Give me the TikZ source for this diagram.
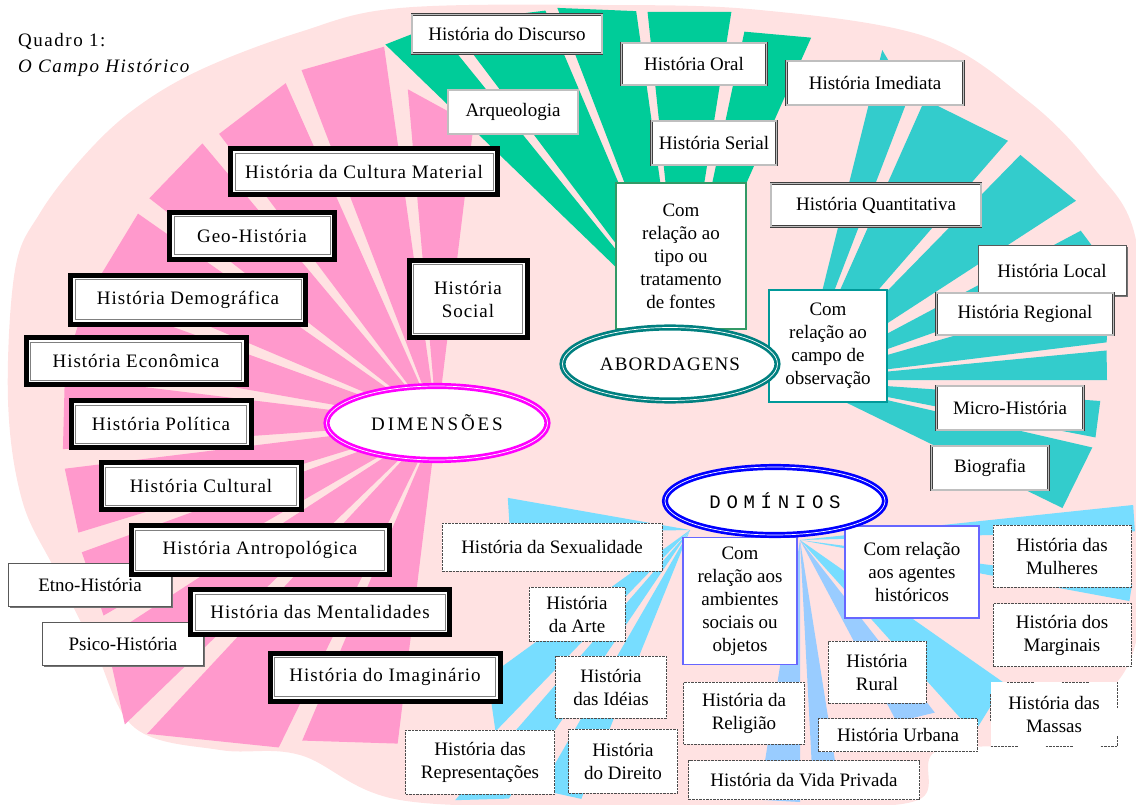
\documentclass[tikz,border=0pt]{standalone}
\usepackage{fontspec}
\setmainfont{Liberation Serif}
\newfontfamily\titlefont{Liberation Serif}[LetterSpace=8]
\newfontfamily\trackfont{Liberation Serif}[LetterSpace=5]
\newfontfamily\dimfont{Liberation Serif}[LetterSpace=15]
\newfontfamily\abordfont{Liberation Serif}[LetterSpace=6]
\newfontfamily\domfont{Liberation Mono}[LetterSpace=30]
\usepackage{tikz}
\usetikzlibrary{shapes.geometric,shadows}

\definecolor{bgpink}{RGB}{255,226,226}
\definecolor{fanpink}{RGB}{255,153,204}
\definecolor{fangreen}{RGB}{0,204,153}
\definecolor{fanteal}{RGB}{51,204,204}
\definecolor{fancyan}{RGB}{119,221,255}
\definecolor{fanblue}{RGB}{153,204,255}
\definecolor{dimline}{RGB}{255,0,255}
\definecolor{abordline}{RGB}{0,128,128}
\definecolor{domline}{RGB}{0,0,255}
\definecolor{srcgreen}{RGB}{51,153,102}
\definecolor{obsteal}{RGB}{0,153,153}
\definecolor{agentblue}{RGB}{102,102,255}

\begin{document}
\begin{tikzpicture}[x=1pt,y=1pt,
    every node/.style={inner sep=0pt,align=center,font=\fontsize{19}{23}\selectfont},
    dimbox/.style={rectangle,draw=black,line width=5pt,fill=white,font=\trackfont\fontsize{19}{23}\selectfont,
        path picture={\draw[black!50,line width=1pt]
            ([shift={(4.5pt,-4.5pt)}]path picture bounding box.north west) rectangle
            ([shift={(-4.5pt,4.5pt)}]path picture bounding box.south east);}},
    absbox/.style={rectangle,draw=black!75,double=black!25,double distance=1.2pt,line width=0.8pt,fill=white},
    plainbox/.style={rectangle,draw=black!65,line width=1pt,fill=white,
        drop shadow={shadow xshift=1.5pt,shadow yshift=-1.5pt,fill=black!55,opacity=1}},
    dombox/.style={rectangle,draw=black!70,line width=0.9pt,dash pattern=on 2.5pt off 1pt,fill=white},
    gapbox/.style={dombox,dash pattern=on 2.5pt off 1pt on 2.5pt off 1pt on 2.5pt off 1pt on 2.5pt off 1pt on 2.5pt off 1pt on 2.5pt off 1pt on 2.5pt off 1pt on 2.5pt off 28pt},
    srcbox/.style={rectangle,line width=2pt,fill=white},
    hub/.style={ellipse,fill=white,line width=2.7pt,double=white,double distance=0.7pt}
]
    \useasboundingbox (0,0) rectangle (1136,-805);

    % Background field
    \fill[bgpink] plot[smooth cycle,tension=0.6] coordinates {(400,-8) (300,-32) (200,-70) (133,-110) (83,-157)
        (40,-213) (15,-270) (8,-400) (22,-500) (55,-570) (95,-650) (135,-728) (220,-750) (300,-755) (400,-800)
        (600,-806) (800,-806) (918,-800) (935,-752) (1020,-742) (1100,-700) (1140,-620) (1142,-400) (1136,-240)
        (1093,-167) (1027,-100) (927,-37) (760,-10) (600,-5)};

    % Hubs of the fans
    \coordinate (dimc) at (437,-423);
    \coordinate (srcc) at (681,-330);
    \coordinate (obsc) at (800,-380);
    \coordinate (domw) at (690,-530);
    \coordinate (dome) at (800,-540);

    % Dimensoes fan
    \foreach \a/\p/\b/\q in {83/300/95/335, 98/380/111/378, 114/372/127/362, 130/365/142/365, 145/365/157/368,
        160/372/170/375, 173/375/184/375, 187/375/197/375, 200/378/210/385, 213/395/224/434,
        227/425/244/361, 247/345/263/323}
        \fill[fanpink] (dimc) -- ([shift={(\a:\p)}]dimc) -- ([shift={(\b:\q)}]dimc) -- cycle;

    % Abordagens fans
    \foreach \a/\p/\b/\q in {129/392/136/411, 113/347/127/385, 98/322/111/345, 81/322/96/320, 66/320/78/305}
        \fill[fangreen] (srcc) -- ([shift={(\a:\p)}]srcc) -- ([shift={(\b:\q)}]srcc) -- cycle;
    \foreach \a/\p/\b/\q in {69/305/76/340, 49/317/66/307, 33/329/45.6/315, 19.5/329/28/318, 7/309/16/320,
        0/307/5.5/308, -11/301/-4/301, -26/292/-13/300}
        \fill[fanteal] (obsc) -- ([shift={(\a:\p)}]obsc) -- ([shift={(\b:\q)}]obsc) -- cycle;

    % Dominios fans
    \foreach \a/\p/\b/\q in {170/185/181/180, 216/250/226/280, 229/358/236/324, 240/300/248/290}
        \fill[fancyan] (domw) -- ([shift={(\a:\p)}]domw) -- ([shift={(\b:\q)}]domw) -- cycle;
    \foreach \a/\p/\b/\q in {312/260/325/250, -10.5/335/-7.5/335, 1.5/335/6/335}
        \fill[fancyan] (dome) -- ([shift={(\a:\p)}]dome) -- ([shift={(\b:\q)}]dome) -- cycle;
    \foreach \a/\p/\b/\q in {261/263/270/262, 273/258/279/253, 298/206/308/219}
        \fill[fanblue] (dome) -- ([shift={(\a:\p)}]dome) -- ([shift={(\b:\q)}]dome) -- cycle;

    % Title
    \node[anchor=base west,font=\titlefont\fontsize{19}{23}\selectfont] (quadro) at (18,-47) {Quadro 1:};
    \node[anchor=base west,font=\titlefont\itshape\fontsize{19}{23}\selectfont] (campohist) at (18,-73) {O Campo Histórico};

    % Abordagens
    \node[absbox,minimum width=190,minimum height=39] (discurso) at (507,-34) {História do Discurso};
    \node[absbox,minimum width=130,minimum height=44] (arqueo) at (513,-112) {Arqueologia};
    \node[absbox,minimum width=145,minimum height=42] (oral) at (694,-64) {História Oral};
    \node[absbox,minimum width=125,minimum height=44] (serial) at (714,-143) {História Serial};
    \node[absbox,minimum width=177,minimum height=44] (imediata) at (875,-83) {História Imediata};
    \node[absbox,minimum width=210,minimum height=43] (quantit) at (876,-205) {História Quantitativa};
    \node[plainbox,minimum width=148,minimum height=50] (local) at (1052,-271) {História Local};
    \node[absbox,minimum width=177,minimum height=42] (regional) at (1025,-314) {História Regional};
    \node[absbox,minimum width=147,minimum height=44] (micro) at (1010,-408) {Micro-História};
    \node[absbox,minimum width=117,minimum height=44] (biog) at (990,-468) {Biografia};
    \node[srcbox,draw=srcgreen,minimum width=130,minimum height=146] (fontes) at (681,-256)
        {Com\\relação ao\\tipo ou\\tratamento\\de fontes};
    \node[srcbox,draw=obsteal,minimum width=118,minimum height=111] (observ) at (828,-346)
        {Com\\relação ao\\campo de\\observação};

    % Dimensoes
    \node[plainbox,minimum width=163,minimum height=43] (etno) at (90,-585) {Etno-História};
    \node[plainbox,minimum width=161,minimum height=43] (psico) at (123,-644) {Psico-História};
    \node[dimbox,minimum width=267,minimum height=46] (cultmat) at (364,-172) {História da Cultura Material};
    \node[dimbox,minimum width=165,minimum height=47] (geo) at (252,-236) {Geo-História};
    \node[dimbox,minimum width=235,minimum height=49] (demog) at (188,-300) {História Demográfica};
    \node[dimbox,minimum width=220,minimum height=47] (econ) at (136,-361) {História Econômica};
    \node[dimbox,minimum width=180,minimum height=47] (polit) at (161,-424) {História Política};
    \node[dimbox,minimum width=200,minimum height=47] (cultural) at (201,-486) {História Cultural};
    \node[dimbox,minimum width=258,minimum height=49] (antrop) at (260,-550) {História Antropológica};
    \node[dimbox,minimum width=259,minimum height=45] (mental) at (320,-612) {História das Mentalidades};
    \node[dimbox,minimum width=230,minimum height=48] (imagin) at (385,-677) {História do Imaginário};
    \node[dimbox,minimum width=118,minimum height=77] (social) at (468,-299) {História\\Social};

    % Dominios
    \node[srcbox,draw=agentblue,line width=1.3pt,minimum width=114,minimum height=127] (ambiente) at (740,-601)
        {Com\\relação aos\\ambientes\\sociais ou\\objetos};
    \node[srcbox,draw=agentblue,line width=1.3pt,minimum width=134,minimum height=92] (agentes) at (912,-572)
        {Com relação\\aos agentes\\históricos};
    \node[dombox,minimum width=220,minimum height=48] (sexual) at (552,-547) {História da Sexualidade};
    \node[dombox,minimum width=96,minimum height=54] (arte) at (577,-614) {História\\da Arte};
    \node[dombox,minimum width=111,minimum height=62] (ideias) at (611,-687) {História\\das Idéias};
    \node[dombox,minimum width=149,minimum height=64] (repres) at (480,-762) {História das\\Representações};
    \node[dombox,minimum width=109,minimum height=64] (direito) at (623,-761) {História\\do Direito};
    \node[dombox,minimum width=121,minimum height=62] (religiao) at (744,-713) {História da\\Religião};
    \node[dombox,minimum width=98,minimum height=62] (rural) at (877,-672) {História\\Rural};
    \node[dombox,minimum width=159,minimum height=33] (urbana) at (898,-735) {História Urbana};
    \node[dombox,minimum width=231,minimum height=39] (privada) at (804,-780) {História da Vida Privada};
    \node[dombox,minimum width=138,minimum height=62] (mulheres) at (1062,-556) {História das\\Mulheres};
    \node[dombox,minimum width=138,minimum height=63] (marginais) at (1062,-635) {História dos\\Marginais};
    \node[gapbox,minimum width=127,minimum height=64] (massas) at (1054,-714) {História das\\Massas};

    % Hubs
    \node[hub,draw=dimline,minimum width=221,minimum height=74] (dim) at (dimc) {\dimfont DIMENSÕES};
    \node[hub,draw=abordline,minimum width=215,minimum height=73] (abord) at (670,-364) {\abordfont ABORDAGENS};
    \node[hub,draw=domline,minimum width=220,minimum height=68] (dom) at (775,-501) {\domfont DOMÍNIOS};
\end{tikzpicture}
\end{document}
